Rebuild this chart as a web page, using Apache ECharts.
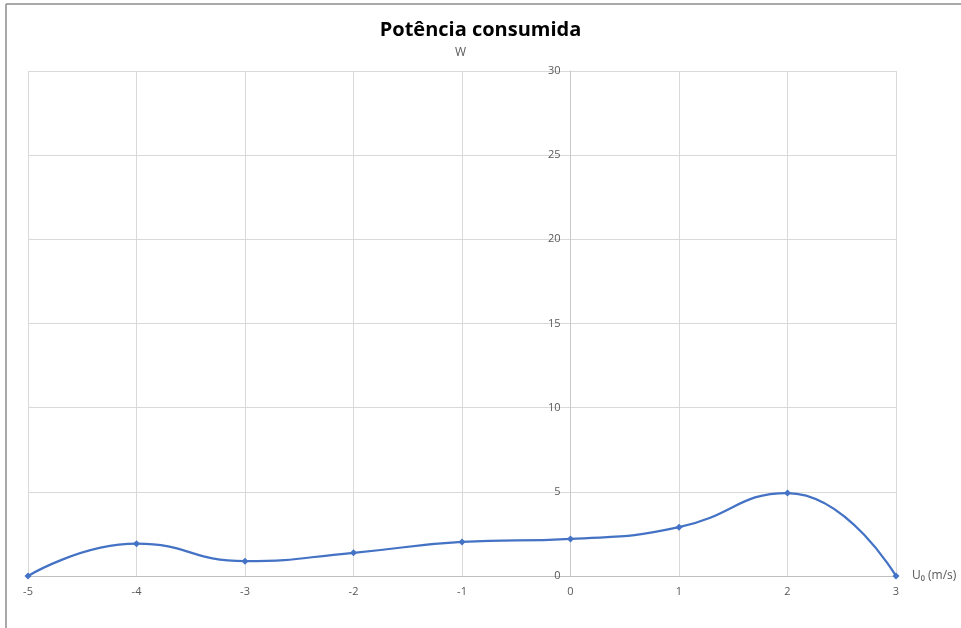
<!DOCTYPE html>
<html>
<head>
<meta charset="utf-8">
<script src="https://cdn.jsdelivr.net/npm/echarts@6/dist/echarts.min.js"></script>
<style>html,body{margin:0;padding:0;background:#fff}#c{width:961px;height:628px}</style>
</head>
<body>
<div id="c"></div>
<script>
var chartTitle = 'Potência consumida';
var yName = 'W';
var xName = 'U₀ (m/s)';
var speeds = [-5, -4, -3, -2, -1, 0, 1, 2, 3];
var power = [0, 1.92, 0.88, 1.38, 2.02, 2.2, 2.9, 4.93, 0];

var chart = echarts.init(document.getElementById('c'));
var font = '"Open Sans", "Liberation Sans", sans-serif';
var gridLeft = 28, gridRight = 65, W = 961;
var xMin = -5, xMax = 3;
var plotW = W - gridLeft - gridRight;
var zeroOffset = (0 - xMin) / (xMax - xMin) * plotW;
chart.setOption({
  backgroundColor: '#ffffff',
  animation: false,
  title: {
    text: chartTitle, left: 'center', top: 15,
    textStyle: {fontFamily: font, fontWeight: 'bold', fontSize: 20, color: '#000'}
  },
  graphic: [
    {type: 'line', shape: {x1: 6, y1: 4, x2: 961, y2: 4}, style: {stroke: '#8c8c8c', lineWidth: 1.5}},
    {type: 'line', shape: {x1: 6, y1: 4, x2: 6, y2: 628}, style: {stroke: '#8c8c8c', lineWidth: 1.5}},
    {type: 'text', left: 455, top: 47, style: {text: yName, font: '12px ' + font, fill: '#595959'}}
  ],
  grid: {left: gridLeft, right: gridRight, top: 71, bottom: 52},
  xAxis: {
    type: 'value', min: xMin, max: xMax, interval: 1,
    name: xName, nameLocation: 'end', nameGap: 16,
    nameTextStyle: {fontFamily: font, fontSize: 12, color: '#595959'},
    axisLine: {show: true, onZero: false, lineStyle: {color: '#bfbfbf', width: 1}},
    axisTick: {show: false},
    axisLabel: {fontFamily: font, fontSize: 11, color: '#595959', margin: 10},
    splitLine: {show: true, lineStyle: {color: '#d9d9d9', width: 1}}
  },
  yAxis: {
    type: 'value', min: 0, max: 30, interval: 5,
    position: 'left', offset: -zeroOffset,
    axisLine: {show: true, onZero: false, lineStyle: {color: '#c8c8c8', width: 1}},
    axisTick: {show: false},
    axisLabel: {fontFamily: font, fontSize: 11, color: '#595959', margin: 10},
    splitLine: {show: true, lineStyle: {color: '#d9d9d9', width: 1}}
  },
  series: [{
    type: 'line',
    data: speeds.map(function (x, i) { return [x, power[i]]; }),
    smooth: 0.5,
    symbol: 'diamond', symbolSize: 7,
    lineStyle: {color: '#4472C4', width: 2.25},
    itemStyle: {color: '#4472C4'}
  }]
});
</script>
</body>
</html>
